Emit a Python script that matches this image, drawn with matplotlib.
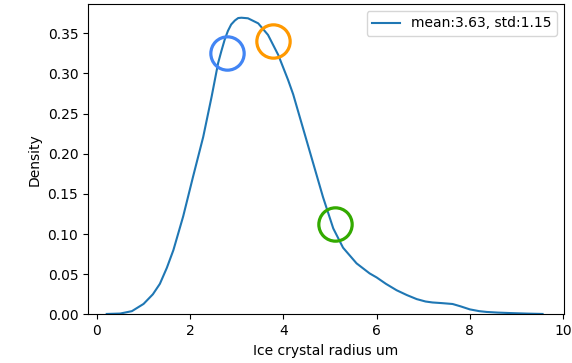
import matplotlib
matplotlib.use("Agg")
import matplotlib.pyplot as plt

# KDE curve
radius = [0.21, 0.50, 0.75, 1.00, 1.20, 1.35, 1.50, 1.64, 1.85, 2.06, 2.28, 2.46,
          2.60, 2.67, 2.74, 2.81, 2.88, 2.96, 3.03, 3.10, 3.24, 3.46, 3.67, 3.89,
          4.10, 4.21, 4.32, 4.42, 4.53, 4.64, 4.85, 5.07, 5.28, 5.57, 5.85, 6.00,
          6.20, 6.43, 6.65, 6.86, 7.05, 7.20, 7.40, 7.63, 7.80, 8.00, 8.20, 8.36,
          8.60, 8.92, 9.25, 9.56]
density = [0.0005, 0.001, 0.004, 0.013, 0.025, 0.038, 0.058, 0.080, 0.122, 0.171, 0.221, 0.271,
           0.313, 0.328, 0.342, 0.353, 0.361, 0.366, 0.369, 0.3694, 0.3687, 0.3624, 0.348, 0.323,
           0.292, 0.274, 0.252, 0.232, 0.210, 0.188, 0.146, 0.107, 0.083, 0.0635, 0.051, 0.046,
           0.038, 0.030, 0.024, 0.019, 0.016, 0.0148, 0.0140, 0.0129, 0.0100, 0.0062, 0.0040, 0.0030,
           0.0022, 0.0015, 0.0009, 0.0005]
legend_label = "mean:3.63, std:1.15"

# annotation circles
circle_x = [2.79, 3.77, 5.10]
circle_y = [0.325, 0.340, 0.113]
circle_colors = ["#4285f4", "#ff9900", "#33aa00"]

fig = plt.figure(figsize=(5.72, 3.63), dpi=100)
ax = fig.add_axes([0.154, 0.134, 0.832, 0.855])
ax.plot(radius, density, color="#1f77b4", lw=1.5, label=legend_label)
for cx, cy, cc in zip(circle_x, circle_y, circle_colors):
    ax.plot([cx], [cy], marker="o", ms=24, mfc="none", mec=cc, mew=2.3, ls="none")
ax.set_xlim(-0.19, 10.02)
ax.set_ylim(0, 0.3865)
ax.set_xticks([0, 2, 4, 6, 8, 10])
ax.set_yticks([0, 0.05, 0.10, 0.15, 0.20, 0.25, 0.30, 0.35])
ax.set_yticklabels(["0.00", "0.05", "0.10", "0.15", "0.20", "0.25", "0.30", "0.35"])
ax.set_xlabel("Ice crystal radius um")
ax.set_ylabel("Density")
ax.legend(loc="upper right")
fig.savefig("out.png", dpi=100)
